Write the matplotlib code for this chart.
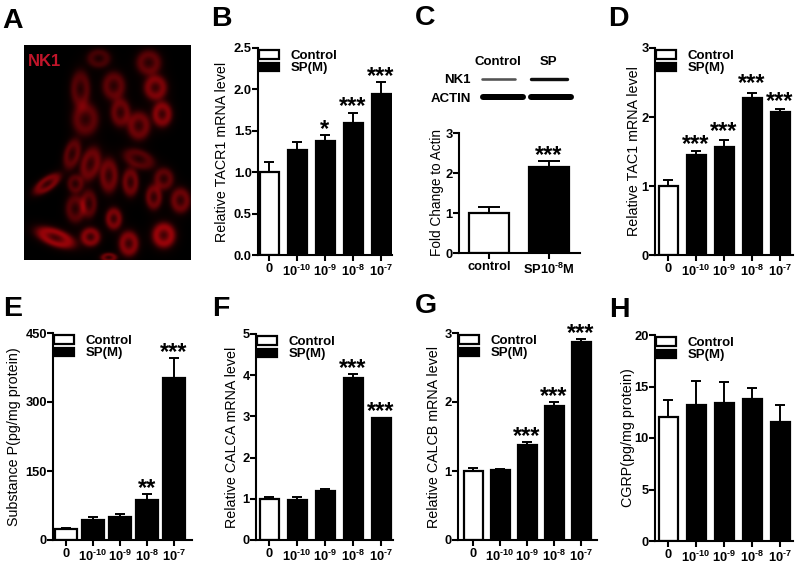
import numpy as np
import matplotlib
matplotlib.use('Agg')
import matplotlib.pyplot as plt

plt.rcParams['font.family'] = ['Liberation Sans', 'DejaVu Sans']
plt.rcParams['mathtext.fontset'] = 'custom'
plt.rcParams['mathtext.rm'] = 'Liberation Sans:bold'
plt.rcParams['mathtext.bf'] = 'Liberation Sans:bold'
plt.rcParams['mathtext.default'] = 'bf'

W = 800
H = 563

doses = ['0', r'$10^{\text{-}10}$', r'$10^{\text{-}9}$', r'$10^{\text{-}8}$', r'$10^{\text{-}7}$']

tacr1 = [1.0, 1.27, 1.38, 1.6, 1.94]
tacr1_err = [0.12, 0.10, 0.07, 0.12, 0.15]
tacr1_stars = ['', '', '*', '***', '***']

actin = [1.0, 2.16]
actin_err = [0.15, 0.14]
actin_stars = ['', '***']
actin_labels = ['control', r'SP10$^{\text{-}8}$M']

tac1 = [1.0, 1.45, 1.56, 2.27, 2.07]
tac1_err = [0.09, 0.06, 0.11, 0.08, 0.05]
tac1_stars = ['', '***', '***', '***', '***']

subp = [25, 43, 51, 88, 352]
subp_err = [2, 6, 5, 12, 43]
subp_stars = ['', '', '', '**', '***']

calca = [1.0, 0.98, 1.19, 3.93, 2.95]
calca_err = [0.05, 0.06, 0.04, 0.10, 0.02]
calca_stars = ['', '', '', '***', '***']

calcb = [1.0, 1.02, 1.37, 1.94, 2.87]
calcb_err = [0.05, 0.01, 0.05, 0.06, 0.04]
calcb_stars = ['', '', '***', '***', '***']

cgrp = [12.0, 13.25, 13.4, 13.8, 11.6]
cgrp_err = [1.65, 2.25, 2.05, 1.1, 1.6]
cgrp_stars = ['', '', '', '', '']

# cells of the NK1 picture: x, y, rx, ry, tilt (deg), brightness (zoomed px)
cells = [
    (295, 172, 36, 30, 0, 0.45), (445, 185, 38, 40, 0, 0.6), (465, 260, 35, 40, 0, 0.8),
    (240, 265, 30, 60, 0, 0.55), (340, 255, 35, 45, 0, 0.6), (485, 340, 30, 40, 0, 0.85),
    (255, 355, 40, 52, 0, 0.6), (360, 335, 30, 45, 0, 0.65), (415, 375, 35, 45, 0, 0.7),
    (215, 460, 25, 50, 15, 0.6), (270, 490, 30, 55, 15, 0.7), (415, 475, 50, 30, 20, 0.55),
    (140, 550, 48, 22, -35, 0.8), (325, 525, 28, 55, 0, 0.7), (390, 545, 25, 45, 0, 0.7),
    (490, 535, 30, 35, 0, 0.6), (460, 590, 25, 40, 0, 0.7), (540, 600, 30, 40, 0, 0.7),
    (225, 550, 25, 30, 0, 0.5), (225, 625, 30, 45, 0, 0.55), (265, 610, 25, 45, 0, 0.55),
    (340, 655, 25, 35, 0, 0.8), (165, 712, 62, 28, 20, 1.0), (270, 710, 30, 30, 0, 0.85),
    (385, 730, 30, 40, 0, 0.85), (490, 705, 35, 40, 0, 1.0), (325, 772, 25, 15, 0, 0.7),
]

# western blot bands: x0, x1, y, thickness, darkness in px
bands = [
    (482, 515, 78.5, 2.6, 0.45), (531, 567, 78.5, 3.4, 0.9),
    (483, 523, 97, 6.0, 1.0), (531, 571, 97, 6.0, 1.0),
]


def px_axes(x0, x1, top, bottom):
    return fig.add_axes([x0 / W, 1 - bottom / H, (x1 - x0) / W, (bottom - top) / H])


def bar_panel(box, centers, width, vals, errs, stars, ymax, yticks, ylabel, label_x, xlabels,
              star_off=-0.5, capsize=3.6, legend=True, yfmt=None, label_size=10.25):
    x0, x1, top, bottom = box
    ax = px_axes(x0, x1, top, bottom)
    step = centers[1] - centers[0]
    ax.set_xlim((x0 - centers[0]) / step, (x1 - centers[0]) / step)
    ax.set_ylim(0, ymax)
    pos = np.arange(len(vals))
    w = width / step
    ax.bar(pos[:1], vals[:1], w, color='white', edgecolor='black', linewidth=1.6, label='Control')
    ax.bar(pos[1:], vals[1:], w, color='black', edgecolor='black', linewidth=1.6, label='SP(M)')
    ax.errorbar(pos, vals, yerr=[np.zeros(len(vals)), errs], fmt='none', ecolor='black',
                elinewidth=1.4, capsize=capsize, capthick=1.4, clip_on=False)
    offs = np.broadcast_to(star_off, pos.shape)
    for p, v, e, s, o in zip(pos, vals, errs, stars, offs):
        if s:
            ax.annotate(s, (p, v + e), xytext=(0, o), textcoords='offset points', ha='center',
                        va='baseline', fontsize=17, fontweight='bold', annotation_clip=False)
    for sp in ['top', 'right']:
        ax.spines[sp].set_visible(False)
    for sp in ['left', 'bottom']:
        ax.spines[sp].set_linewidth(1.5)
    ax.set_xticks(pos)
    ax.set_xticklabels(xlabels)
    ax.set_yticks(yticks)
    if yfmt:
        ax.set_yticklabels([yfmt % t for t in yticks])
    ax.tick_params(axis='y', length=4, width=1.5, pad=0.5)
    ax.tick_params(axis='x', length=4, width=1.5, pad=2)
    for t in ax.get_xticklabels() + ax.get_yticklabels():
        t.set_fontsize(9.3)
        t.set_fontweight('bold')
    ax.set_ylabel(ylabel, fontsize=label_size)
    # the label coordinate is the right edge of the rotated text
    ax.yaxis.set_label_coords((label_x + 8.5 - x0) / (x1 - x0), 0.5)
    if legend:
        ax.legend(loc='upper left', bbox_to_anchor=(0.01, 0.99), frameon=False, borderpad=0,
                  borderaxespad=0, prop={'size': 9.5, 'weight': 'bold'}, handlelength=1.5,
                  handleheight=0.6, labelspacing=0.03, handletextpad=0.85)
    return ax


fig = plt.figure(figsize=(W / 100, H / 100), dpi=100)

# panel A, picture rebuilt from the cell list
ax_a = px_axes(24, 191, 45, 260)
yy, xx = np.mgrid[133:780:3, 72:573:3]
red = np.zeros(xx.shape)
for cx, cy, rx, ry, tilt, b in cells:
    t = np.radians(tilt)
    dx = xx - cx
    dy = yy - cy
    u = (dx * np.cos(t) + dy * np.sin(t)) / (rx * 1.2)
    v = (-dx * np.sin(t) + dy * np.cos(t)) / (ry * 1.15)
    r = np.sqrt(u ** 2 + v ** 2)
    red += b * (0.5 * np.exp(-((r - 0.55) / 0.32) ** 2) + 0.28 * np.exp(-(r / 0.85) ** 2))
red = np.clip(red, 0, 1)
img = np.dstack([red * 0.85, red * 0.02, red * 0.05])
ax_a.imshow(img, aspect='auto', interpolation='bilinear')
ax_a.axis('off')
fig.text(28 / W, 1 - 66 / H, 'NK1', color='#c0152a', fontsize=12, fontweight='bold')

bar_panel((258, 392, 48, 255), [269, 297, 324, 351, 379], 19, tacr1, tacr1_err, tacr1_stars, 2.5,
          [0, 0.5, 1, 1.5, 2, 2.5], 'Relative TACR1 mRNA level', 220, doses, yfmt='%.1f')
bar_panel((459, 580, 133, 253), [489, 549], 40, actin, actin_err, actin_stars, 3,
          [0, 1, 2, 3], 'Fold Change to Actin', 436, actin_labels, capsize=8, legend=False,
          label_size=9.8)
bar_panel((655, 793, 48, 255), [668, 696, 723, 751, 778], 19, tac1, tac1_err, tac1_stars, 3,
          [0, 1, 2, 3], 'Relative TAC1 mRNA level', 632, doses, star_off=[0, -0.5, 1.5, 2, 0.5])
bar_panel((53, 192, 333, 540), [66, 93, 120, 147, 175], 22, subp, subp_err, subp_stars, 450,
          [0, 150, 300, 450], 'Substance P(pg/mg protein)', 13, doses)
bar_panel((256, 393, 334, 540), [269, 297, 324, 351, 379], 19, calca, calca_err, calca_stars, 5,
          [0, 1, 2, 3, 4, 5], 'Relative CALCA mRNA level', 230, doses)
bar_panel((458, 597, 333, 540), [473, 500, 527, 555, 582], 19, calcb, calcb_err, calcb_stars, 3,
          [0, 1, 2, 3], 'Relative CALCB mRNA level', 432, doses)
bar_panel((655, 793, 335, 541), [668, 696, 723, 751, 778], 19, cgrp, cgrp_err, cgrp_stars, 20,
          [0, 5, 10, 15, 20], 'CGRP(pg/mg protein)', 626.5, doses)

# western blot
ov = fig.add_axes([0, 0, 1, 1], facecolor='none')
ov.set_xlim(0, W)
ov.set_ylim(H, 0)
ov.axis('off')
for x0, x1, y, th, dark in bands:
    g = str(round(0.6 * (1 - dark), 2))
    ov.plot([x0, x1], [y, y], color=g, lw=th * 0.72, solid_capstyle='round')
blot_text = [(498, 62, 'Control', 'center'), (548, 62, 'SP', 'center'),
             (471, 80, 'NK1', 'right'), (471, 99, 'ACTIN', 'right')]
for x, y, s, ha in blot_text:
    ov.text(x, y, s, ha=ha, va='center', fontsize=9.5, fontweight='bold')

letters = [('A', 2, 28), ('B', 211, 26), ('C', 415, 25), ('D', 608, 26),
           ('E', 3, 316), ('F', 212, 316), ('G', 415, 313), ('H', 609, 317)]
for s, x, y in letters:
    ov.text(x, y, s, fontsize=20.5, fontweight='bold', ha='left', va='baseline')

fig.savefig('out.png', dpi=100)
